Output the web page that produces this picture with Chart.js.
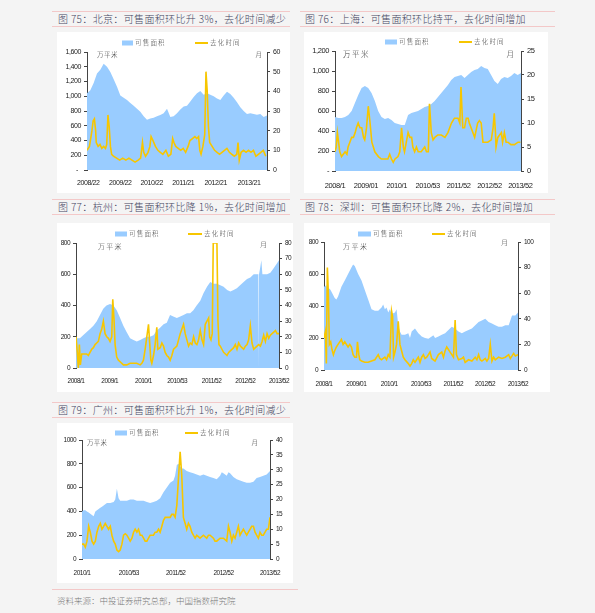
<!DOCTYPE html>
<html><head><meta charset="utf-8">
<script src="https://cdn.jsdelivr.net/npm/chart.js@4/dist/chart.umd.min.js"></script>
<style>
html,body{margin:0;padding:0}
body{background:#f4f4f4;width:595px;height:613px;position:relative;overflow:hidden;font-family:'Noto Sans CJK SC',sans-serif}
.t{position:absolute;font-size:10px;font-weight:300;color:#45455f;line-height:14px;white-space:nowrap;letter-spacing:0.35px}
.pl{position:absolute;height:1px;background:#f3c8c8}
.p{position:absolute;background:#fff}
.p canvas{position:absolute;left:0;top:0}
.src{position:absolute;font-size:8.5px;font-weight:300;color:#7a7a7a;line-height:12px;white-space:nowrap}
</style></head><body>

<div class="pl" style="left:52px;top:11px;width:238px"></div>
<div class="t" style="left:58px;top:12px">图 75：北京：可售面积环比升 3%，去化时间减少</div>
<div class="pl" style="left:52px;top:26px;width:238px"></div>
<div class="p" style="left:57px;top:32px;width:233px;height:161px"><canvas id="c75" width="233" height="161"></canvas></div>

<div class="pl" style="left:300px;top:11px;width:255px"></div>
<div class="t" style="left:305px;top:12px">图 76：上海：可售面积环比持平，去化时间增加</div>
<div class="pl" style="left:300px;top:26px;width:255px"></div>
<div class="p" style="left:304px;top:32px;width:244px;height:161px"><canvas id="c76" width="244" height="161"></canvas></div>

<div class="pl" style="left:52px;top:199px;width:238px"></div>
<div class="t" style="left:58px;top:200px">图 77：杭州：可售面积环比降 1%，去化时间增加</div>
<div class="pl" style="left:52px;top:214px;width:238px"></div>
<div class="p" style="left:57px;top:223px;width:236px;height:169px"><canvas id="c77" width="236" height="169"></canvas></div>

<div class="pl" style="left:300px;top:199px;width:255px"></div>
<div class="t" style="left:305px;top:200px">图 78：深圳：可售面积环比降 2%，去化时间增加</div>
<div class="pl" style="left:300px;top:214px;width:255px"></div>
<div class="p" style="left:304px;top:223px;width:246px;height:169px"><canvas id="c78" width="246" height="169"></canvas></div>

<div class="pl" style="left:52px;top:402px;width:238px"></div>
<div class="t" style="left:58px;top:403px">图 79：广州：可售面积环比升 1%，去化时间减少</div>
<div class="pl" style="left:52px;top:417px;width:238px"></div>
<div class="p" style="left:57px;top:423px;width:236px;height:160px"><canvas id="c79" width="236" height="160"></canvas></div>

<div class="pl" style="left:52px;top:589px;width:246px"></div>
<div class="src" style="left:57px;top:594px">资料来源：中投证券研究总部，中国指数研究院</div>

<script>
// ---------- shared labels ----------
const areaLabel = '可售面积';
const lineLabel = '去化时间';
const unitLeft = '万平米';
const unitRight = '月';

// ---------- 75 Beijing (x in weeks from start) ----------
const bjXLabels = ['2008/22','2009/22','2010/22','2011/21','2012/21','2013/21'];
const bjXTickWeeks = [2,54,105,156,209,263];
const bjSpan = 292;
const bjArea = [1040,1080,1180,1310,1360,1440,1400,1330,1230,1130,1010,980,950,910,870,830,790,730,680,700,710,730,745,770,830,720,730,770,820,860,870,930,990,1040,1070,1020,1040,1020,1000,970,950,1010,1060,1030,980,920,850,800,760,770,760,750,760,720,740];
const bjLineWeeks = [0,4,8,10,12,14,15,18,21,24,27,30,32,34,36,38,40,43,48,53,58,63,68,73,78,83,87,90,92,95,99,102,104,107,111,115,119,123,128,132,136,139,141,144,148,152,156,160,164,167,171,175,178,181,183,185,188,191,193,195,197,199,203,207,211,215,219,223,227,231,235,239,243,245,247,250,254,258,262,266,270,274,278,282,286,290];
const bjLine = [10,12,20,25,26,20,14,12,13,11,12,11,13,28,22,12,8,7,6,5,6,5,6,5,4,5,6,14,9,7,9,12,17,15,12,10,9,8,10,7,8,16,14,12,11,10,11,9,12,15,16,17,16,17,10,8,12,18,50,40,22,14,12,10,9,8,9,10,11,9,8,7,8,14,5,9,10,9,10,9,10,7,8,9,10,7];

// ---------- 76 Shanghai ----------
const shXLabels = ['2008/1','2009/01','2010/1','2010/53','2011/52','2012/52','2013/52'];
const shXTickWeeks = [0,52,104,156,208,260,312];
const shSpan = 313;
const shArea = [540,530,530,540,560,600,680,760,830,850,830,780,700,600,540,520,530,510,480,470,460,460,560,580,590,600,620,640,650,670,700,740,780,820,860,910,940,950,960,930,960,990,1010,1020,1050,1030,1020,960,900,870,920,940,930,950,980,960,980];
const shLineWeeks = [0,2,4,6,8,11,17,20,22,25,28,31,34,36,39,42,45,48,50,53,56,59,62,67,73,78,84,89,92,95,98,101,106,109,112,115,117,120,123,126,129,131,134,137,140,145,151,154,157,159,162,165,168,173,179,185,190,196,201,207,210,212,215,218,221,224,226,229,235,240,243,246,249,252,257,263,266,268,270,271,274,280,282,285,288,291,296,302,308,312];
const shLine = [4,5,8,6,4,3,4,3.5,5,6,7,7,8,9,10,9,9,7,6.5,9,13.5,10,6,4,3,2.5,2.5,2.5,3.5,2.5,1.8,2.5,3,4,9,5,4,6,8,7,7,5,4,5,4,4,5,4,4,14,8,6.5,7,7.5,7.5,7,8,10,11,11,10,17.5,9,9,11,11,10,9,7,10,10.5,10,6,6,6,6.5,9,12,8,5,7,8,6,8,6,6,5.5,5.5,6,6];

// ---------- 77 Hangzhou ----------
const hzXLabels = ['2008/1','2009/1','2010/1','2010/53','2011/52','2012/52','2013/52'];
const hzXTickWeeks = [0,52,104,156,209,261,313];
const hzSpan = 313;
const hzAreaWeeks = [0,6,11,16.5,21.6,26.8,32,37,42,47,52.5,57.7,62.8,68,73,78,83.4,88.6,93.7,99,104,109,114,119.5,124.6,130,135,140,145,150,155.5,160.7,165.8,171,176,181,186,191.6,196.7,202,207,212,217,222.5,227.6,233,238,243,248,253,258.5,263.7,268.8,274,279,281.2,281.7,282.2,284.3,285.8,287.4,289.4,294.6,299.7,305,310,313];
const hzArea = [190,190,210,230,250,270,300,340,380,400,410,400,370,320,270,230,190,180,170,180,190,200,200,210,240,260,280,290,340,330,320,330,340,350,350,370,400,430,480,520,550,540,540,530,520,500,490,500,510,530,550,570,580,600,600,600,0,600,650,690,600,600,600,610,640,670,690];
const hzLineWeeks = [0,2,3.6,5.2,6.7,8.8,11.3,16.5,19,21.6,24.2,26.8,29.4,31.9,34.5,37.1,39.7,42.2,44.8,47.4,50,52.5,55.1,56.7,58.7,60.3,62.8,65.4,68,73.1,78.3,83.4,88.6,93.7,98.9,101.5,104,106.6,109.2,111.8,113.3,115.4,116.9,119.5,122,124.6,126.2,129.8,132.4,134.9,137.5,140.1,142.7,145.2,147.8,150.4,155.5,160.7,165.8,168.4,171,173.6,176.1,178.7,181.3,183.9,186.4,189,191.6,194.2,196.7,199.3,201.9,204.5,206,208.1,210.1,211.6,217.3,218.9,220.4,222.5,225,227.6,232.8,235.4,237.9,243.1,245.6,248.2,250.8,253.4,255.9,258.5,261.1,263.7,266.2,268.8,271.4,274,276.6,279.1,281.7,284.3,286.9,289.4,292,294.6,297.2,299.7,302.3,304.9,307.5,310,313];
const hzLine = [20,10,0,15,2,9,9,9,8,10,12,13,15,16,17,22,25,30,22,20,19,17,20,44,30,15,7,5,4,2,2,3,3,3,2,3,5,12,20,28,18,5,3,8,15,26,12,13,16,14,10,8,7,5,8,12,14,22,28,22,18,14,16,15,20,16,15,18,24,18,15,28,30,32,20,18,22,80,80,30,15,14,12,10,8,10,11,13,15,12,16,14,13,12,14,15,18,27,16,12,13,14,15,14,17,21,17,22,19,21,22,23,24,22,22];

// ---------- 78 Shenzhen ----------
const szXLabels = ['2008/1','2009/01','2010/1','2010/53','2011/52','2012/52','2013/52'];
const szXTickWeeks = [0,52,105,156,208,259,312];
const szSpan = 312;
const szAreaWeeks = [0,3.8,6.5,9.1,11.8,14.5,17.2,19.9,22.6,28,33.4,38.7,44.1,46.8,49.5,54.9,60.3,65.6,71,76.4,81.8,87.2,92.5,95.2,97.9,100.6,103.3,106,108.7,114.1,116.7,119.4,122.1,124.8,130.2,135.6,138.3,141,146.3,151.7,154.4,157.1,162.5,167.9,173.2,175.4,175.9,176.5,178.6,184,189.4,194.8,200.1,205.5,210.9,216.3,221.7,227,232.4,237.8,243.2,248.6,253.9,259.3,264.7,270.1,275.5,280.8,286.2,291.6,297,302.4,307.7,312];
const szArea = [520,530,500,510,490,470,450,440,460,520,560,600,640,660,650,600,560,500,440,380,370,370,390,410,380,390,360,380,350,360,380,280,240,220,220,230,200,240,260,230,220,210,200,195,210,215,350,215,200,210,220,230,250,270,260,240,230,240,250,260,280,300,310,320,300,290,280,270,270,280,280,340,340,360];
const szLineWeeks = [0,2.2,3.8,5.4,7,8.6,10.8,12.9,15.1,17.2,19.9,22.6,25.3,28,30.7,33.4,36,38.7,41.4,44.1,46.8,49.5,52.2,53.8,56,57.6,60.3,65.6,71,76.4,81.8,87.2,89.8,92.5,97.9,100.6,103.3,106,108.7,110.3,111.9,114.1,116.7,119.4,122.1,124.8,127.5,130.2,135.6,138.3,141,143.6,146.3,149,151.7,154.4,157.1,159.8,162.5,165.2,167.9,170.5,173.2,175.9,178.6,184,189.4,192.1,194.8,197.4,200.1,202.8,205.5,208.2,210.9,213,216.3,221.7,224.3,227,232.4,237.8,243.2,245.9,248.6,251.2,253.9,259.3,262,264.7,267.4,270.1,272.8,275.5,280.8,286.2,291.6,297,299.6,302.4,305,307.7,312];
const szLine = [25,30,5,80,60,20,22,16,12,15,18,20,22,24,20,22,20,18,20,18,12,10,10,22,12,8,7,6,6,7,8,12,9,8,10,8,12,10,46,42,10,14,20,38,20,15,10,8,5,3,5,8,6,8,10,6,10,12,9,10,12,14,9,8,7,12,14,10,15,18,16,14,12,10,39,12,8,9,10,6,8,7,10,8,12,8,7,9,7,9,20,7,10,8,10,9,10,12,9,11,13,11,12];

// ---------- 79 Guangzhou ----------
const gzXLabels = ['2010/1','2010/53','2011/52','2012/52','2013/52'];
const gzXTickWeeks = [0,52,104,157,208.6];
const gzSpan = 208.6;
const gzAreaWeeks = [0,1.8,3.7,5.5,7.4,9.2,12.9,14.8,16.6,18.5,20.3,22.1,24,25.8,27.7,31.4,35.1,36.9,38.7,40.6,42.4,46.1,49.8,53.5,57.2,60.9,64.6,68.3,72,75.6,79.3,83,86.7,90.4,94.1,97.8,101.5,103.3,105.2,107,108.9,110.7,112.5,116.2,119.9,123.6,127.3,131,134.7,138.4,142.1,145.8,149.5,153.2,155.1,156.9,160.6,162.5,164.3,168,171.7,175.4,179.1,182.8,186.5,190.2,193.8,197.5,201.2,204.9,208.6];
const gzArea = [400,410,410,400,390,380,360,400,410,420,430,440,450,460,470,470,480,500,590,510,490,490,490,500,500,490,490,490,480,470,480,490,510,560,600,640,660,700,790,800,780,760,760,740,730,720,710,700,710,700,690,680,670,700,730,720,700,730,720,690,670,660,650,640,640,650,680,690,700,710,740];
const gzLineWeeks = [0,1.8,3.7,5.5,7.4,9.2,11.1,12.9,14.8,16.6,18.5,20.3,22.1,24,25.8,27.7,29.5,31.4,33.2,35.1,36.9,38.7,40.6,42.4,44.3,46.1,48,49.8,51.7,53.5,55.4,57.2,59,60.9,62.7,64.6,66.4,68.3,70.1,72,73.8,75.6,77.5,79.3,81.2,83,84.9,86.7,88.6,90.4,92.3,94.1,97.8,99.6,101.5,103.3,105.2,107,108.9,110.7,112.5,114.4,116.2,118.1,119.9,121.8,123.6,125.5,127.3,131,134.7,138.4,140.3,142.1,145.8,147.6,149.5,153.2,156.9,160.6,162.5,164.3,166.2,168,169.8,171.7,173.5,175.4,177.2,179.1,180.9,182.8,184.6,186.5,188.3,190.2,192,193.8,195.7,197.5,199.4,201.2,203.1,204.9,206.8,208.6];
const gzLine = [5,5,4,6,11,9,6,5,6,9,11,12,10,11,12,11,10,11,8,6,5,3,2.5,3,5,8,8.5,8,7,6,7,9,10,9,10,8,8,7,6,6,7,8,8,8,9,9,10,9,11,13,14,14,14,15,15,14,18,27,36,28,14,12,10,12,11,9,8,7,8,7,8,7,8,8,7,6,6,7,7,6,11,9,6,8,7,9,11,8,9,10,9,8,9,10,11,11,9,8,7,9,8,8,9,10,10,14];

// ---------- drawing ----------
const AREA_COLOR = '#99ccff';
const LINE_COLOR = '#f7c600';
const TICK_FONT = "'Liberation Sans',Arial,sans-serif";
const CJK = "'Noto Sans CJK SC',sans-serif";

Chart.defaults.font.family = TICK_FONT;
Chart.defaults.color = '#222';

const tightText = {
  id: 'tightText',
  beforeUpdate(chart, args, o) { chart.ctx.letterSpacing = o.ls + 'px'; },
  beforeDraw(chart, args, o) { chart.ctx.letterSpacing = o.ls + 'px'; }
};

const decor = {
  id: 'decor',
  afterDraw(chart, args, o) {
    const ctx = chart.ctx, ca = chart.chartArea;
    const line = chart.data.datasets[0], area = chart.data.datasets[1];
    ctx.save();
    ctx.textBaseline = 'middle';
    ctx.font = '300 ' + o.legSize + 'px ' + CJK;
    ctx.letterSpacing = o.legLs + 'px';
    ctx.fillStyle = area.backgroundColor;
    ctx.fillRect(o.x1, o.y - 2.5, o.bw, 5);
    ctx.fillStyle = '#444';
    ctx.fillText(area.label, o.x1 + o.bw + 2, o.y);
    ctx.strokeStyle = line.borderColor; ctx.lineWidth = 2;
    ctx.beginPath(); ctx.moveTo(o.x2, o.y); ctx.lineTo(o.x2 + o.lw, o.y); ctx.stroke();
    ctx.fillText(line.label, o.x2 + o.lw + 2, o.y);
    ctx.font = '300 ' + o.unitSize + 'px ' + CJK;
    ctx.letterSpacing = o.unitLs + 'px';
    ctx.fillStyle = '#333';
    ctx.textAlign = 'left';
    ctx.fillText(unitLeft, ca.left + o.ux, ca.top + o.uy);
    ctx.textAlign = 'right';
    ctx.letterSpacing = '0px';
    ctx.fillText(unitRight, ca.right - o.mx, ca.top + o.my);
    ctx.restore();
  }
};

function pts(xs, ys) { return ys.map((v, i) => ({x: xs[i], y: v})); }
function uniform(ys, span) { return ys.map((_, i) => i * span / (ys.length - 1)); }

function make(id, c) {
  const tickFont = {size: c.fs, family: TICK_FONT};
  new Chart(document.getElementById(id), {
    type: 'line',
    data: {datasets: [
      {label: lineLabel, data: pts(c.lineW, c.line), yAxisID: 'y1', borderColor: LINE_COLOR, borderWidth: 1.6, pointRadius: 0, fill: false, tension: 0, order: 0},
      {label: areaLabel, data: pts(c.areaW, c.area), yAxisID: 'y', backgroundColor: AREA_COLOR, borderColor: AREA_COLOR, borderWidth: 0, pointRadius: 0, fill: 'origin', tension: 0, order: 1}
    ]},
    options: {
      responsive: false, animation: false, devicePixelRatio: 1,
      layout: {padding: {top: c.top, left: 0, right: 0, bottom: 0}},
      plugins: {legend: {display: false}, tooltip: {enabled: false}, decor: c.decor, tightText: {ls: c.ls}},
      scales: {
        x: {type: 'linear', min: 0, max: c.span, offset: false,
          grid: {display: false}, border: {display: false},
          afterBuildTicks: s => { s.ticks = c.xTicks.map(v => ({value: v})); },
          ticks: {autoSkip: false, maxRotation: 0, minRotation: 0, padding: c.xpad, font: tickFont, color: '#222',
            callback: (v, i) => c.xLabels[i]},
          afterFit: s => { s.height = c.xh; }
        },
        y: {position: 'left', min: 0, max: c.lmax,
          ticks: {stepSize: c.lstep, font: tickFont, color: '#222', padding: 3, callback: c.lfmt},
          grid: {drawOnChartArea: false, drawTicks: true, tickLength: 3, color: '#444'},
          border: {display: true, color: '#444', width: 1},
          afterFit: s => { s.width = c.wl; }
        },
        y1: {position: 'right', min: 0, max: c.rmax,
          ticks: {stepSize: c.rstep, font: tickFont, color: '#222', padding: 3},
          grid: {drawOnChartArea: false, drawTicks: true, tickLength: 3, color: '#444'},
          border: {display: true, color: '#444', width: 1},
          afterFit: s => { s.width = c.wr; }
        }
      }
    },
    plugins: [tightText, decor]
  });
}

const commaFmt = v => v === 0 ? '-  ' : v.toLocaleString('en-US');
const commaFmt2 = v => v === 0 ? '-' : v.toLocaleString('en-US');
const plainFmt = v => String(v);

make('c75', {span: bjSpan, areaW: uniform(bjArea, bjSpan), area: bjArea, lineW: bjLineWeeks, line: bjLine,
  xTicks: bjXTickWeeks, xLabels: bjXLabels, lmax: 1600, lstep: 200, rmax: 60, rstep: 10, lfmt: commaFmt,
  wl: 30, wr: 23, top: 20, xh: 23, fs: 7, ls: -0.4, xpad: 1,
  decor: {x1: 65, x2: 138, y: 11, bw: 11, lw: 13, legSize: 6.5, legLs: 1.2, unitSize: 6.5, unitLs: 0.5, ux: 10, uy: 3, mx: 5, my: 3}});

make('c76', {span: shSpan, areaW: uniform(shArea, shSpan), area: shArea, lineW: shLineWeeks, line: shLine,
  xTicks: shXTickWeeks, xLabels: shXLabels, lmax: 1200, lstep: 200, rmax: 25, rstep: 5, lfmt: commaFmt2,
  wl: 31, wr: 27, top: 19, xh: 22, fs: 7.5, ls: -0.4, xpad: 2,
  decor: {x1: 81, x2: 155, y: 10, bw: 12, lw: 13, legSize: 6.5, legLs: 1.2, unitSize: 7.5, unitLs: 1.5, ux: 8, uy: 3, mx: 7, my: 3}});

make('c77', {span: hzSpan, areaW: hzAreaWeeks, area: hzArea, lineW: hzLineWeeks, line: hzLine,
  xTicks: hzXTickWeeks, xLabels: hzXLabels, lmax: 800, lstep: 200, rmax: 80, rstep: 10, lfmt: plainFmt,
  wl: 19, wr: 14, top: 20, xh: 24, fs: 6.5, ls: -0.5, xpad: 1,
  decor: {x1: 58, x2: 131, y: 11, bw: 12, lw: 14, legSize: 6.5, legLs: 1.2, unitSize: 7, unitLs: 1.2, ux: 22, uy: 3, mx: 12, my: 1}});

make('c78', {span: szSpan, areaW: szAreaWeeks, area: szArea, lineW: szLineWeeks, line: szLine,
  xTicks: szXTickWeeks, xLabels: szXLabels, lmax: 800, lstep: 200, rmax: 100, rstep: 20, lfmt: plainFmt,
  wl: 20, wr: 32, top: 19, xh: 22, fs: 6.5, ls: -0.5, xpad: 2,
  decor: {x1: 54, x2: 128, y: 11, bw: 13, lw: 13, legSize: 6.5, legLs: 1.2, unitSize: 7, unitLs: 1.5, ux: 19, uy: 4, mx: 10, my: 0}});

make('c79', {span: gzSpan, areaW: gzAreaWeeks, area: gzArea, lineW: gzLineWeeks, line: gzLine,
  xTicks: gzXTickWeeks, xLabels: gzXLabels, lmax: 1000, lstep: 200, rmax: 40, rstep: 5, lfmt: plainFmt,
  wl: 25, wr: 23, top: 17, xh: 24, fs: 6.5, ls: -0.5, xpad: 2,
  decor: {x1: 58, x2: 128, y: 10, bw: 12, lw: 13, legSize: 6.5, legLs: 1.2, unitSize: 6.5, unitLs: 0.3, ux: 5, uy: 3, mx: 12, my: 3}});
</script>
</body></html>
